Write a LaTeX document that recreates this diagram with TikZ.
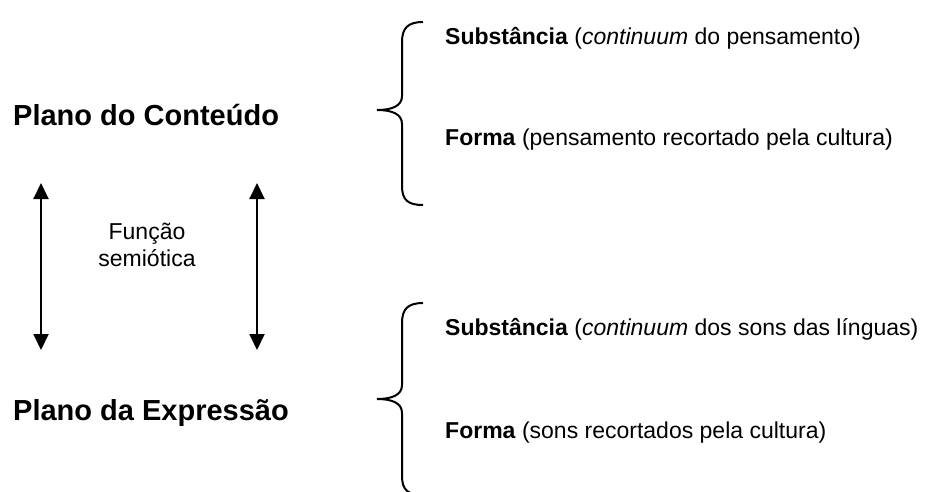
\documentclass[tikz,border=0pt]{standalone}
\usepackage{fontspec}
\setmainfont{Liberation Sans}
\usetikzlibrary{arrows.meta}
\begin{document}
\begin{tikzpicture}[x=1pt,y=-1pt,
  big/.style={font=\fontsize{29}{34}\selectfont\bfseries, inner sep=0pt, anchor=base west},
  txt/.style={font=\fontsize{23}{28}\selectfont, inner sep=0pt, anchor=base west},
  mid/.style={font=\fontsize{23}{28}\selectfont, inner sep=0pt, anchor=base},
  brc/.style={line width=2pt},
  dbl/.style={line width=2pt, {Triangle[length=16pt,width=15pt]}-{Triangle[length=16pt,width=15pt]}}]
\useasboundingbox (0,0) rectangle (942,491);
\clip (0,0) rectangle (942,491);
\node[big] (pc) at (13,125) {Plano do Conteúdo};
\node[big] (pe) at (13,420) {Plano da Expressão};
\node[txt] (s1) at (445,44) {\textbf{Substância} (\textit{continuum} do pensamento)};
\node[txt] (f1) at (445,145) {\textbf{Forma} (pensamento recortado pela cultura)};
\node[txt] (s2) at (445,335) {\textbf{Substância} (\textit{continuum} dos sons das línguas)};
\node[txt] (f2) at (445,438) {\textbf{Forma} (sons recortados pela cultura)};
\node[mid] (fs1) at (147,239) {Função};
\node[mid] (fs2) at (147,266) {semiótica};
\coordinate (a1t) at (41,183); \coordinate (a1b) at (41,350);
\coordinate (a2t) at (257,183); \coordinate (a2b) at (257,350);
\draw[dbl] (a1t) -- (a1b);
\draw[dbl] (a2t) -- (a2b);
\draw[brc] (423,22) .. controls (408,22) and (402,28) .. (402,42) -- (402,96)
  .. controls (402,106) and (392,110) .. (377,110)
  .. controls (392,110) and (402,114) .. (402,124) -- (402,186)
  .. controls (402,200) and (408,205) .. (423,205);
\draw[brc] (423,303) .. controls (408,303) and (402,309) .. (402,323) -- (402,385)
  .. controls (402,395) and (392,399) .. (377,399)
  .. controls (392,399) and (402,403) .. (402,413) -- (402,476)
  .. controls (402,490) and (408,495) .. (423,495);
\end{tikzpicture}
\end{document}
